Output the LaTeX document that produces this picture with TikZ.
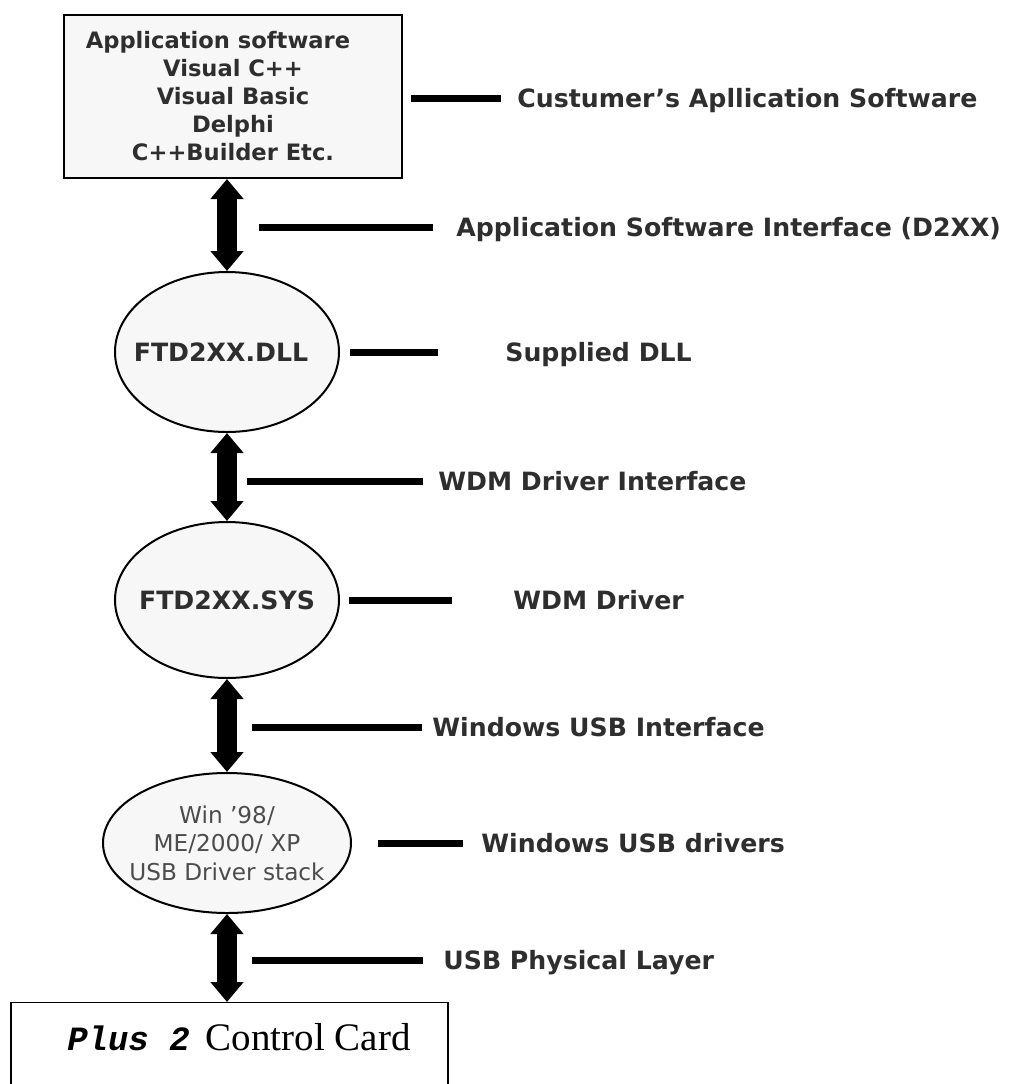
\documentclass[tikz,border=0pt]{standalone}
\usepackage{fontspec}
\setmainfont{Liberation Serif}
\setsansfont{DejaVu Sans}
\setmonofont{Liberation Mono}
\usetikzlibrary{shapes.geometric,arrows.meta,positioning}
\definecolor{inkgray}{HTML}{2E2E2E}
\definecolor{paper}{HTML}{F7F7F7}

\begin{document}
\begin{tikzpicture}[x=0.5pt, y=-0.5pt,
  appbox/.style={rectangle, draw, line width=1pt, fill=paper, minimum width=169pt, minimum height=81.5pt, align=center, text=inkgray,
    font=\sffamily\bfseries\fontsize{11.3}{14}\selectfont},
  layer/.style={ellipse, draw, line width=1pt, fill=paper, inner sep=-10pt, align=center, text=inkgray,
    font=\sffamily\bfseries\fontsize{12.6}{15}\selectfont},
  tag/.style={anchor=west, inner sep=0pt, text height=9.1pt, text depth=0pt, text=inkgray,
    font=\sffamily\bfseries\fontsize{12.6}{15}\selectfont},
  cardbox/.style={rectangle, draw, line width=0.6pt, fill=white, minimum width=218.5pt, minimum height=80pt, anchor=north},
  dblarr/.style={{Triangle[length=10pt,width=16pt]}-{Triangle[length=10pt,width=16pt]}, line width=10pt},
  lead/.style={line width=3.5pt}
]
  \useasboundingbox[fill=white] (0,0) rectangle (1019,1084);

  % stack of layers
  \node[appbox] (app) at (233,96.5) {Application software\kern15pt\hbox{}\\Visual C++\\Visual Basic\\Delphi\\C++Builder Etc.};
  \node[layer, minimum width=112pt, minimum height=80pt] (dll) at (227,352) {FTD2XX.DLL\kern6pt\hbox{}};
  \node[layer, minimum width=112pt, minimum height=78pt] (sys) at (227,600) {FTD2XX.SYS};
  \node[layer, minimum width=124pt, minimum height=70pt, font=\sffamily\fontsize{11.6}{14.2}\selectfont, text=black!70] (usb) at (227,843)
    {Win ’98/\\ME/2000/ XP\\USB Driver stack};
  \node[cardbox] (card) at (229.5,1002) {};
  \node[inner sep=0pt, font=\rmfamily\fontsize{19.5}{23}\selectfont] (cardlbl) at (239,1037)
    {{\ttfamily\bfseries\itshape\fontsize{17}{20}\selectfont Plus 2}\ \,Control Card};

  \draw[dblarr] (app.south -| dll.north) -- (dll.north);
  \draw[dblarr] (dll.south) -- (sys.north);
  \draw[dblarr] (sys.south) -- (usb.north);
  \draw[dblarr] (usb.south) -- (usb.south |- card.north);

  % labels on the right
  \node[tag] (cust) at (517,98) {Custumer’s Apllication Software};
  \node[tag] (asi) at (456,227) {Application Software Interface (D2XX)};
  \node[tag] (supp) at (505,352) {Supplied DLL};
  \node[tag] (wdmi) at (438,481) {WDM Driver Interface};
  \node[tag] (wdm) at (513,600) {WDM Driver};
  \node[tag] (wusbi) at (432,727) {Windows USB Interface};
  \node[tag] (wusbd) at (481,843) {Windows USB drivers};
  \node[tag] (phy) at (443,960) {USB Physical Layer};

  \coordinate (asi0) at (259,227);
  \coordinate (wdmi0) at (247,481);
  \coordinate (wusbi0) at (252,727);
  \coordinate (phy0) at (252,960);

  \draw[lead, shorten >=8pt] ([xshift=4pt]app.east |- cust.west) -- (cust.west);
  \draw[lead, shorten >=11.5pt] (asi0) -- (asi0 -| asi.west);
  \draw[lead, shorten >=33.5pt] ([xshift=5pt]dll.east) -- (dll.east -| supp.west);
  \draw[lead, shorten >=7.5pt] (wdmi0) -- (wdmi0 -| wdmi.west);
  \draw[lead, shorten >=30.5pt] ([xshift=4.5pt]sys.east) -- (sys.east -| wdm.west);
  \draw[lead, shorten >=5pt] (wusbi0) -- (wusbi0 -| wusbi.west);
  \draw[lead, shorten >=9pt] ([xshift=13pt]usb.east) -- (usb.east -| wusbd.west);
  \draw[lead, shorten >=10pt] (phy0) -- (phy0 -| phy.west);
\end{tikzpicture}
\end{document}
